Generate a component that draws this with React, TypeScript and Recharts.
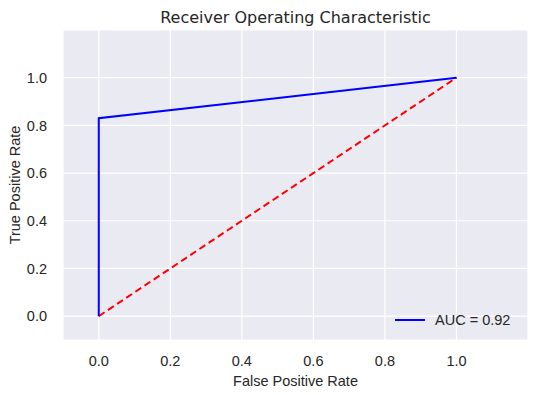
import React from 'react';
import {
  LineChart,
  Line,
  XAxis,
  YAxis,
  CartesianGrid,
} from 'recharts';

// ROC curve points (false positive rate, true positive rate)
const fpr = [0, 0, 1];
const tpr = [0, 0.83, 1];
const chanceX = [0, 1];
const chanceY = [0, 1];
const ticks = [0, 0.2, 0.4, 0.6, 0.8, 1.0];
const aucLabel = 'AUC = 0.92';

const rocData = fpr.map((x, i) => ({ x, y: tpr[i] }));
const chanceData = chanceX.map((x, i) => ({ x, y: chanceY[i] }));

const textColor = '#262626';
const font = '"Liberation Sans", Arial, sans-serif';
const titleFont = '"DejaVu Sans", sans-serif';
const fs = 14.5;

export default function App() {
  return (
    <div style={{ position: 'absolute', left: 0, top: 0, width: 548, height: 395, background: '#fff', fontFamily: font }}>
      <div
        style={{
          position: 'absolute',
          top: 8,
          left: 63,
          width: 465,
          textAlign: 'center',
          fontFamily: titleFont,
          fontSize: 16,
          lineHeight: '20px',
          color: textColor,
        }}
      >
        Receiver Operating Characteristic
      </div>
      <LineChart
        width={548}
        height={395}
        margin={{ top: 30, right: 20, left: 0, bottom: 0 }}
      >
        <CartesianGrid stroke="#ffffff" strokeWidth={1.2} fill="#EAEAF2" />
        <XAxis
          type="number"
          dataKey="x"
          domain={[-0.1, 1.2]}
          ticks={ticks}
          allowDataOverflow
          height={55}
          axisLine={false}
          tickLine={false}
          tickMargin={10}
          tick={{ fill: textColor, fontSize: fs, fontFamily: font }}
          tickFormatter={(v: number) => v.toFixed(1)}
          label={{
            value: 'False Positive Rate',
            position: 'insideBottom',
            offset: 9,
            fill: textColor,
            fontSize: fs,
            fontFamily: font,
          }}
        />
        <YAxis
          type="number"
          dataKey="y"
          domain={[-0.1, 1.2]}
          ticks={ticks}
          allowDataOverflow
          width={63}
          axisLine={false}
          tickLine={false}
          tickMargin={10}
          tick={{ fill: textColor, fontSize: fs, fontFamily: font }}
          tickFormatter={(v: number) => v.toFixed(1)}
          label={{
            value: 'True Positive Rate',
            angle: -90,
            position: 'insideLeft',
            offset: 15,
            style: { textAnchor: 'middle' },
            fill: textColor,
            fontSize: fs,
            fontFamily: font,
          }}
        />
        <Line
          data={chanceData}
          dataKey="y"
          type="linear"
          stroke="#ff0000"
          strokeWidth={2}
          strokeDasharray="7 4"
          dot={false}
          isAnimationActive={false}
        />
        <Line
          data={rocData}
          dataKey="y"
          type="linear"
          stroke="#0000ff"
          strokeWidth={2}
          dot={false}
          isAnimationActive={false}
        />
      </LineChart>
      <div
        style={{
          position: 'absolute',
          left: 395,
          top: 311,
          display: 'flex',
          alignItems: 'center',
          fontSize: fs,
          lineHeight: '18px',
          color: textColor,
        }}
      >
        <svg width={30} height={6} style={{ marginRight: 10 }}>
          <line x1={0} y1={3} x2={30} y2={3} stroke="#0000ff" strokeWidth={2} />
        </svg>
        <span>{aucLabel}</span>
      </div>
    </div>
  );
}
